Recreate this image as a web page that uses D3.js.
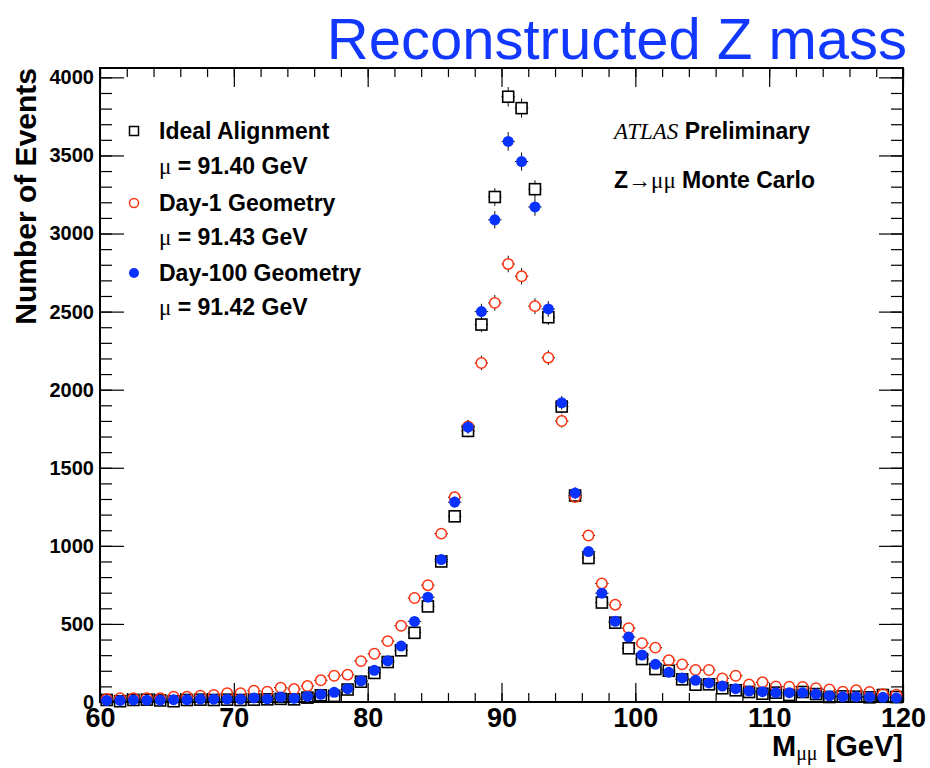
<!DOCTYPE html>
<html lang="en">
  <head>
    <meta charset="UTF-8">
    <script src="https://d3js.org/d3.v7.min.js"></script>
    <title>Reconstructed Z mass</title>
    <style>
      body { margin: 0; background: #fff; }
      svg { display: block; font-family: "Liberation Sans", Arial, sans-serif; }
      .tick text { font-weight: bold; fill: #000; }
      .axis path { display: none; }
      .axis line { stroke: #000; stroke-width: 1.2; }
    </style>
  </head>
  <body>
    <div id="chart"></div>
    <script>
      // bins of 1 GeV from 60 to 120
      const massBins = d3.range(60.5, 120, 1);

      const idealAlignment = [
        13, 5, 13, 15, 10, 5, 13, 15, 13, 15,
        13, 15, 17, 20, 17, 28, 43, 39, 80, 130,
        186, 256, 331, 443, 612, 900, 1189, 1736, 2417, 3234,
        3876, 3803, 3284, 2464, 1892, 1322, 922, 637, 508, 344,
        275, 211, 200, 145, 111, 113, 88, 75, 64, 53,
        60, 45, 64, 51, 32, 36, 34, 30, 45, 32
      ];
      const day1Geometry = [
        19, 25, 25, 25, 25, 34, 34, 40, 45, 56,
        56, 72, 66, 92, 83, 102, 139, 168, 175, 262,
        309, 390, 488, 666, 748, 1078, 1311, 1765, 2171, 2556,
        2805, 2726, 2535, 2205, 1799, 1312, 1066, 759, 623, 473,
        377, 348, 267, 241, 205, 205, 151, 168, 113, 126,
        100, 98, 96, 88, 81, 66, 75, 64, 50, 47
      ];
      const day100Geometry = [
        10, 10, 13, 12, 12, 15, 15, 18, 18, 18,
        18, 26, 20, 32, 24, 36, 49, 62, 85, 136,
        203, 264, 358, 516, 671, 912, 1280, 1760, 2500, 3088,
        3590, 3461, 3170, 2517, 1916, 1338, 963, 697, 517, 416,
        301, 241, 190, 154, 139, 122, 102, 85, 70, 66,
        60, 60, 60, 51, 40, 34, 34, 32, 30, 26
      ];

      const xTicks = [60, 70, 80, 90, 100, 110, 120];
      const yTicks = [0, 500, 1000, 1500, 2000, 2500, 3000, 3500, 4000];

      const legendRows = [
        { label: 'Ideal Alignment', mean: '91.40' },
        { label: 'Day-1 Geometry', mean: '91.43' },
        { label: 'Day-100 Geometry', mean: '91.42' }
      ];

      const width = 930, height = 768;
      const frameL = 100, frameR = 903, frameT = 68, frameB = 702;

      const svg = d3.select('#chart').append('svg')
        .attr('width', width)
        .attr('height', height);

      const x = d3.scaleLinear().domain([60, 120]).range([frameL, frameR]);
      const y = d3.scaleLinear().domain([0, 4060]).range([frameB, frameT]);

      // title
      svg.append('text')
        .attr('x', 907).attr('y', 59)
        .attr('text-anchor', 'end')
        .attr('font-size', 58)
        .attr('fill', '#1238ff')
        .text('Reconstructed Z mass');

      // axes (ROOT style, ticks inside the frame)
      const minorX = d3.range(60, 120.01, 2);
      const minorY = d3.range(0, 4060, 100);

      svg.append('g').attr('class', 'axis')
        .attr('transform', `translate(0,${frameB})`)
        .call(d3.axisBottom(x).tickValues(minorX).tickSize(-9).tickFormat(''));
      svg.append('g').attr('class', 'axis')
        .attr('transform', `translate(0,${frameB})`)
        .call(d3.axisBottom(x).tickValues(xTicks).tickSize(-19).tickPadding(6).tickFormat(d3.format('d')))
        .selectAll('text').attr('font-size', 27);
      svg.append('g').attr('class', 'axis')
        .attr('transform', `translate(0,${frameT})`)
        .call(d3.axisTop(x).tickValues(minorX).tickSize(-9).tickFormat(''));
      svg.append('g').attr('class', 'axis')
        .attr('transform', `translate(0,${frameT})`)
        .call(d3.axisTop(x).tickValues(xTicks).tickSize(-19).tickFormat(''));

      svg.append('g').attr('class', 'axis')
        .attr('transform', `translate(${frameL},0)`)
        .call(d3.axisLeft(y).tickValues(minorY).tickSize(-12).tickFormat(''));
      svg.append('g').attr('class', 'axis')
        .attr('transform', `translate(${frameL},0)`)
        .call(d3.axisLeft(y).tickValues(yTicks).tickSize(-24).tickPadding(6).tickFormat(d3.format('d')))
        .selectAll('text').attr('font-size', 20);
      svg.append('g').attr('class', 'axis')
        .attr('transform', `translate(${frameR},0)`)
        .call(d3.axisRight(y).tickValues(minorY).tickSize(-12).tickFormat(''));
      svg.append('g').attr('class', 'axis')
        .attr('transform', `translate(${frameR},0)`)
        .call(d3.axisRight(y).tickValues(yTicks).tickSize(-24).tickFormat(''));

      // frame
      svg.append('rect')
        .attr('x', frameL).attr('y', frameT)
        .attr('width', frameR - frameL).attr('height', frameB - frameT)
        .attr('fill', 'none').attr('stroke', '#000').attr('stroke-width', 2);

      // axis titles
      svg.append('text')
        .attr('transform', `translate(36,${frameT}) rotate(-90)`)
        .attr('text-anchor', 'end')
        .attr('font-size', 30).attr('font-weight', 'bold')
        .text('Number of Events');

      const xTitle = svg.append('text')
        .attr('x', frameR).attr('y', 756)
        .attr('text-anchor', 'end')
        .attr('font-size', 29).attr('font-weight', 'bold');
      xTitle.append('tspan').text('M');
      xTitle.append('tspan').attr('dy', 4).attr('font-size', 20)
        .attr('font-family', '"Liberation Serif", serif').attr('font-weight', 'normal').text('μμ');
      xTitle.append('tspan').attr('dy', -4).text(' [GeV]');

      // series
      const halfBin = (x(61) - x(60)) / 2;

      function errorBars(values, markerHalf) {
        const g = svg.append('g').attr('stroke', '#111').attr('stroke-width', 1);
        values.forEach((v, i) => {
          const cx = x(massBins[i]);
          const cy = y(v);
          const err = Math.sqrt(v);
          const ey1 = y(v + err), ey2 = y(Math.max(0, v - err));
          if (cy - ey1 > markerHalf) {
            g.append('line').attr('x1', cx).attr('x2', cx).attr('y1', ey1).attr('y2', cy - markerHalf);
            g.append('line').attr('x1', cx).attr('x2', cx).attr('y1', cy + markerHalf).attr('y2', ey2);
          }
          g.append('line').attr('x1', cx - halfBin).attr('x2', cx - markerHalf).attr('y1', cy).attr('y2', cy);
          g.append('line').attr('x1', cx + markerHalf).attr('x2', cx + halfBin).attr('y1', cy).attr('y2', cy);
        });
      }

      errorBars(idealAlignment, 5);
      svg.append('g').selectAll('rect')
        .data(idealAlignment)
        .join('rect')
        .attr('x', (d, i) => x(massBins[i]) - 5.5)
        .attr('y', d => y(d) - 5.5)
        .attr('width', 11).attr('height', 11)
        .attr('fill', 'none').attr('stroke', '#000').attr('stroke-width', 1.6);

      errorBars(day1Geometry, 5);
      svg.append('g').selectAll('circle')
        .data(day1Geometry)
        .join('circle')
        .attr('cx', (d, i) => x(massBins[i]))
        .attr('cy', d => y(d))
        .attr('r', 5.2)
        .attr('fill', 'none').attr('stroke', '#ff3311').attr('stroke-width', 1.5);

      errorBars(day100Geometry, 5);
      svg.append('g').selectAll('circle')
        .data(day100Geometry)
        .join('circle')
        .attr('cx', (d, i) => x(massBins[i]))
        .attr('cy', d => y(d))
        .attr('r', 5.5)
        .attr('fill', '#0a32ff');

      // legend
      const legend = svg.append('g').attr('font-size', 23).attr('font-weight', 'bold');
      const rowY = [131, 166, 203, 237, 273, 307];
      legendRows.forEach((row, i) => {
        const cy = rowY[i * 2];
        if (i === 0) {
          legend.append('rect').attr('x', 129.5).attr('y', cy - 4.5).attr('width', 9).attr('height', 9)
            .attr('fill', 'none').attr('stroke', '#000').attr('stroke-width', 1.5);
        } else if (i === 1) {
          legend.append('circle').attr('cx', 134).attr('cy', cy).attr('r', 4.5)
            .attr('fill', 'none').attr('stroke', '#ff3311').attr('stroke-width', 1.5);
        } else {
          legend.append('circle').attr('cx', 134).attr('cy', cy).attr('r', 5).attr('fill', '#0a32ff');
        }
        legend.append('text').attr('x', 159).attr('y', cy + 8).text(row.label);
        const m = legend.append('text').attr('x', 159).attr('y', rowY[i * 2 + 1] + 8);
        m.append('tspan').attr('font-family', '"Liberation Serif", serif').attr('font-weight', 'normal').text('μ');
        m.append('tspan').text(` = ${row.mean} GeV`);
      });

      // ATLAS label
      const atlas = svg.append('text').attr('x', 614).attr('y', 139).attr('font-size', 23);
      atlas.append('tspan').attr('font-family', '"Liberation Serif", serif').attr('font-style', 'italic').text('ATLAS');
      atlas.append('tspan').attr('font-weight', 'bold').text(' Preliminary');

      const mc = svg.append('text').attr('x', 614).attr('y', 188).attr('font-size', 23);
      mc.append('tspan').attr('font-weight', 'bold').text('Z');
      mc.append('tspan').attr('font-family', '"Liberation Serif", serif').text('→μμ');
      mc.append('tspan').attr('font-weight', 'bold').text(' Monte Carlo');
    </script>
  </body>
</html>
